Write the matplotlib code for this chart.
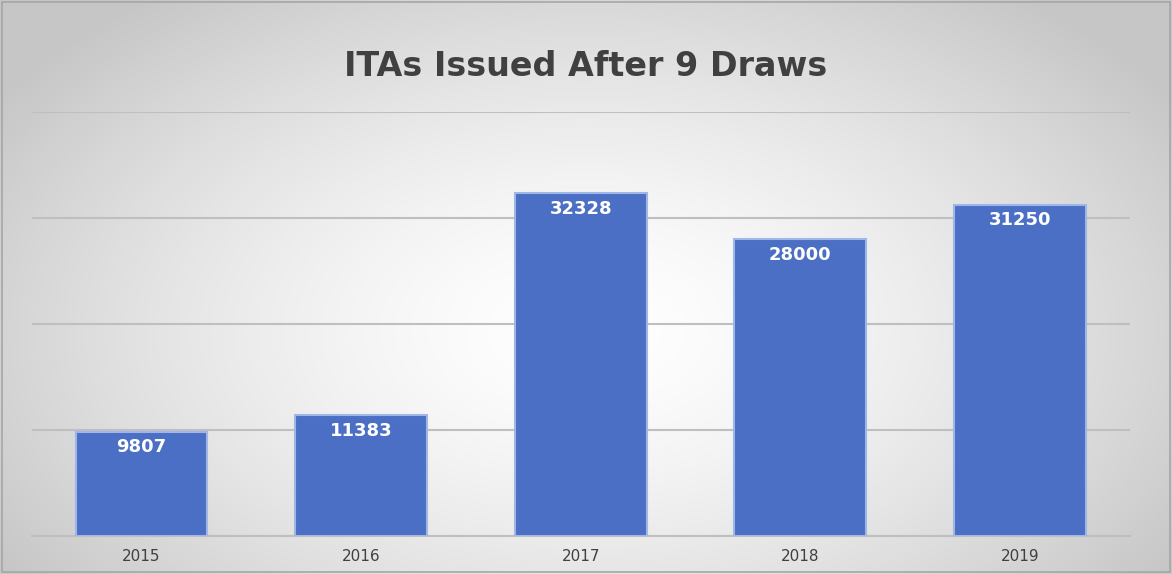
import matplotlib
matplotlib.use("Agg")
import matplotlib.pyplot as plt
import numpy as np

years = ["2015", "2016", "2017", "2018", "2019"]
values = [9807, 11383, 32328, 28000, 31250]
title = "ITAs Issued After 9 Draws"

fig = plt.figure(figsize=(11.72, 5.74), dpi=100)
# radial gradient background
bg = fig.add_axes([0, 0, 1, 1], zorder=0)
yy, xx = np.mgrid[0:574, 0:1172]
r = np.sqrt(((xx - 586) / 700) ** 2 + ((yy - 330) / 420) ** 2)
shade = np.clip(1.0 - 0.22 * r ** 1.5, 0.78, 1.0)
bg.imshow(np.dstack([shade] * 3), aspect="auto", extent=[0, 1, 0, 1])
bg.add_patch(plt.Rectangle((0.002, 0.004), 0.996, 0.992, fill=False,
                           edgecolor="#a6a6a6", lw=1.2, transform=bg.transAxes))
bg.axis("off")

ax = fig.add_axes([0.027, 0.066, 0.937, 0.739], zorder=1)
ax.patch.set_alpha(0)
x = np.arange(len(years))
bars = ax.bar(x, values, width=0.6, color="#4a6fc4", edgecolor="#9fb6e6", lw=1.5, zorder=3)
for b, v in zip(bars, values):
    ax.text(b.get_x() + b.get_width() / 2, v - 600, str(v), ha="center", va="top",
            color="white", fontsize=13, fontweight="bold", zorder=4)
ax.set_ylim(0, 40000)
ax.set_xlim(-0.5, 4.5)
ax.set_yticks([0, 10000, 20000, 30000, 40000])
ax.yaxis.grid(True, color="#bfbfbf", lw=1.5, zorder=0)
ax.set_yticklabels([])
ax.tick_params(left=False, bottom=False, labelsize=11, labelcolor="#404040", pad=6)
ax.set_xticks(x)
ax.set_xticklabels(years)
for s in ["left", "right", "top"]:
    ax.spines[s].set_visible(False)
ax.spines["bottom"].set_color("#bfbfbf")
ax.spines["bottom"].set_linewidth(1.5)
fig.text(0.5, 0.885, title, ha="center", va="center", fontsize=24,
         fontweight="bold", color="#404040", zorder=5)
fig.savefig("out.png", dpi=100)
